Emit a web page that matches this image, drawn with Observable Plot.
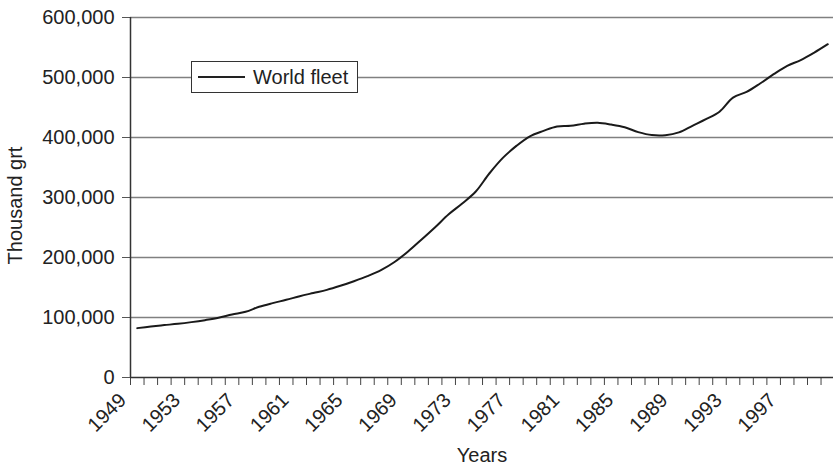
<!DOCTYPE html>
<html>
<head>
<meta charset="utf-8">
<script src="https://cdn.jsdelivr.net/npm/d3@7"></script>
<script src="https://cdn.jsdelivr.net/npm/@observablehq/plot@0.6"></script>
<style>
  body { margin: 0; background: #fff; }
  #chart { position: relative; width: 833px; height: 466px; font-family: "Liberation Sans", Arial, sans-serif; }
  #legend { position: absolute; left: 191px; top: 61px; width: 167px; height: 32px; box-sizing: border-box; border: 1px solid #333; background: #fff; }
  #legend-line { position: absolute; left: 198px; top: 75.5px; width: 47px; height: 2px; background: #222; }
  #legend-text { position: absolute; left: 253px; top: 66.5px; font-size: 20px; line-height: 20px; color: #222; white-space: nowrap; }
</style>
</head>
<body>
<div id="chart">
  <div id="legend"></div>
  <div id="legend-line"></div>
  <div id="legend-text">World fleet</div>
</div>
<script>
// Categories (years)
const years = [1949, 1950, 1951, 1952, 1953, 1954, 1955, 1956, 1957, 1958,
  1959, 1960, 1961, 1962, 1963, 1964, 1965, 1966, 1967, 1968,
  1969, 1970, 1971, 1972, 1973, 1974, 1975, 1976, 1977, 1978,
  1979, 1980, 1981, 1982, 1983, 1984, 1985, 1986, 1987, 1988,
  1989, 1990, 1991, 1992, 1993, 1994, 1995, 1996, 1997, 1998,
  1999, 2000];

// World fleet, thousand grt
const worldFleet = [82300, 85000, 87300, 89500, 92300, 95600, 99500, 105000, 109500, 117800,
  124000, 129500, 135500, 140800, 146000, 152800, 160500, 169000, 179000, 192500,
  210000, 230000, 250500, 272000, 290000, 310000, 340000, 366000, 386000, 402000,
  411000, 418500, 419500, 423000, 424500, 421500, 417000, 409000, 404000, 403800,
  408500, 419500, 430500, 443000, 466500, 476000, 490000, 505500, 519500, 529000,
  541500, 555500];

// Tick labels
const xLabelYears = [1949, 1953, 1957, 1961, 1965, 1969, 1973, 1977, 1981, 1985, 1989, 1993, 1997];
const yTicks = [0, 100000, 200000, 300000, 400000, 500000, 600000];
const seriesName = "World fleet";
const xTitle = "Years";
const yTitle = "Thousand grt";

const data = years.map((year, i) => ({year, value: worldFleet[i]}));
const categoryBounds = years.map(y => y - 0.5);

const font = "'Liberation Sans', Arial, sans-serif";

const chart = Plot.plot({
  width: 833,
  height: 466,
  marginLeft: 130,
  marginRight: 0,
  marginTop: 17,
  marginBottom: 89,
  style: {fontFamily: font, fontSize: "20px", color: "#222", background: "transparent", overflow: "visible"},
  x: {type: "linear", domain: [years[0] - 0.5, years[years.length - 1] + 0.42]},
  y: {domain: [0, 600000]},
  marks: [
    Plot.gridY(yTicks.slice(1), {stroke: "#808080", strokeOpacity: 1, strokeWidth: 1.4}),
    Plot.axisY(yTicks, {tickSize: 8, tickPadding: 8, tickFormat: d3.format(","), stroke: "#555", fill: "#222", fontSize: 20, label: null}),
    Plot.axisX(categoryBounds, {tickSize: 8, tickFormat: () => "", stroke: "#444", label: null}),
    Plot.ruleX([years[0] - 0.5], {stroke: "#333", strokeWidth: 1.5}),
    Plot.ruleY([0], {stroke: "#333", strokeWidth: 1.5}),
    Plot.lineY(data, {x: "year", y: "value", curve: "catmull-rom", stroke: "#1a1a1a", strokeWidth: 2}),
    Plot.text(xLabelYears, {x: d => d, text: d => String(d), frameAnchor: "bottom", textAnchor: "end", lineAnchor: "bottom", rotate: -45, dx: -10, dy: 24, fontSize: 20, fill: "#222"}),
    Plot.text([xTitle], {text: d => d, frameAnchor: "bottom", lineAnchor: "bottom", dy: 84.5, fontSize: 20, fill: "#222"}),
    Plot.text([yTitle], {text: d => d, frameAnchor: "left", textAnchor: "middle", rotate: -90, dx: -115, dy: 8, fontSize: 20, fill: "#222"})
  ]
});

const container = document.getElementById("chart");
container.insertBefore(chart, container.firstChild);
document.getElementById("legend-text").textContent = seriesName;
</script>
</body>
</html>
